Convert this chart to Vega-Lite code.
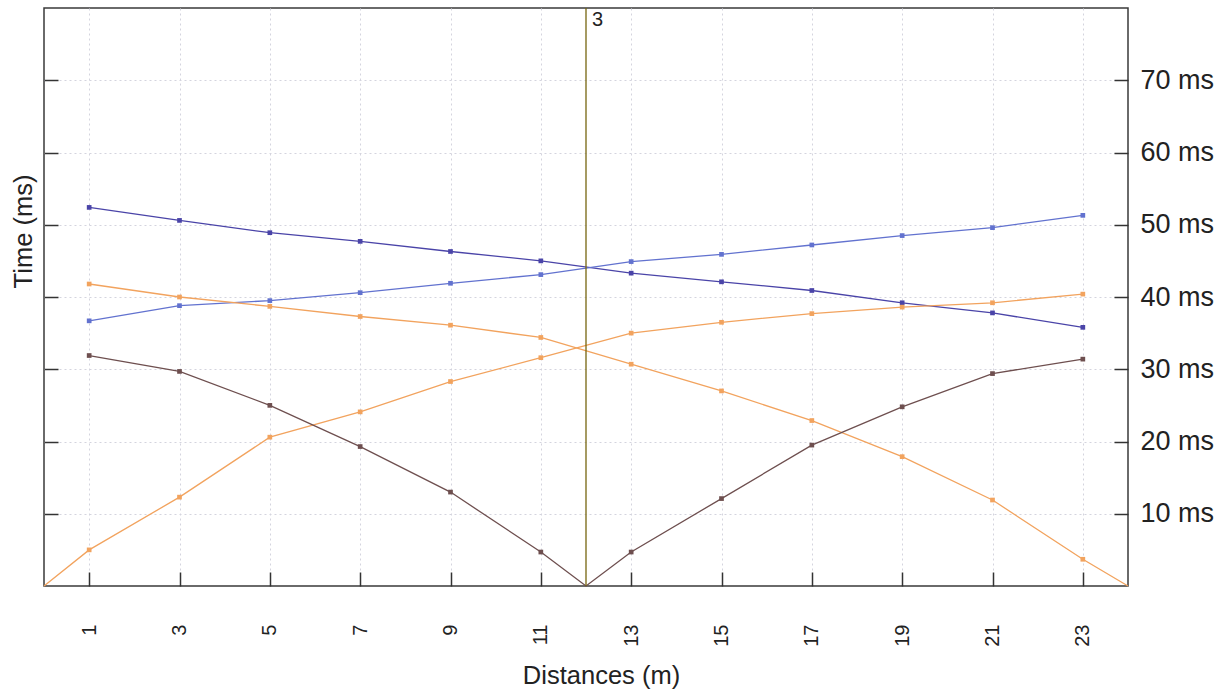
{
  "$schema": "https://vega.github.io/schema/vega-lite/v6.json",
  "width": 1084,
  "height": 578,
  "autosize": {"type": "none"},
  "padding": {"left": 44, "top": 8, "right": 97, "bottom": 111},
  "background": "white",
  "config": {
    "font": "Liberation Sans",
    "view": {"stroke": "#3a3a3a", "strokeWidth": 1.5},
    "axis": {
      "domain": false,
      "tickColor": "#333333",
      "tickWidth": 1.5,
      "tickSize": -14,
      "labelColor": "#222222",
      "titleColor": "#222222",
      "titleFontWeight": "normal",
      "gridColor": "#d4d4de",
      "gridDash": [2, 3],
      "gridWidth": 1
    }
  },
  "datasets": {
    "series": [
      {"series": "A", "x": 1, "y": 52.4}, {"series": "A", "x": 3, "y": 50.6}, {"series": "A", "x": 5, "y": 48.9},
      {"series": "A", "x": 7, "y": 47.7}, {"series": "A", "x": 9, "y": 46.3}, {"series": "A", "x": 11, "y": 45.0},
      {"series": "A", "x": 13, "y": 43.3}, {"series": "A", "x": 15, "y": 42.1}, {"series": "A", "x": 17, "y": 40.9},
      {"series": "A", "x": 19, "y": 39.2}, {"series": "A", "x": 21, "y": 37.8}, {"series": "A", "x": 23, "y": 35.8},
      {"series": "B", "x": 1, "y": 36.7}, {"series": "B", "x": 3, "y": 38.8}, {"series": "B", "x": 5, "y": 39.5},
      {"series": "B", "x": 7, "y": 40.6}, {"series": "B", "x": 9, "y": 41.9}, {"series": "B", "x": 11, "y": 43.1},
      {"series": "B", "x": 13, "y": 44.9}, {"series": "B", "x": 15, "y": 45.9}, {"series": "B", "x": 17, "y": 47.2},
      {"series": "B", "x": 19, "y": 48.5}, {"series": "B", "x": 21, "y": 49.6}, {"series": "B", "x": 23, "y": 51.3},
      {"series": "C", "x": 1, "y": 41.8}, {"series": "C", "x": 3, "y": 40.0}, {"series": "C", "x": 5, "y": 38.7},
      {"series": "C", "x": 7, "y": 37.3}, {"series": "C", "x": 9, "y": 36.1}, {"series": "C", "x": 11, "y": 34.4},
      {"series": "C", "x": 13, "y": 30.7}, {"series": "C", "x": 15, "y": 27.0}, {"series": "C", "x": 17, "y": 22.9},
      {"series": "C", "x": 19, "y": 17.9}, {"series": "C", "x": 21, "y": 11.9}, {"series": "C", "x": 23, "y": 3.7},
      {"series": "C", "x": 24, "y": 0},
      {"series": "D", "x": 0, "y": 0}, {"series": "D", "x": 1, "y": 5.0}, {"series": "D", "x": 3, "y": 12.3},
      {"series": "D", "x": 5, "y": 20.6}, {"series": "D", "x": 7, "y": 24.1}, {"series": "D", "x": 9, "y": 28.3},
      {"series": "D", "x": 11, "y": 31.6}, {"series": "D", "x": 13, "y": 35.0}, {"series": "D", "x": 15, "y": 36.5},
      {"series": "D", "x": 17, "y": 37.7}, {"series": "D", "x": 19, "y": 38.6}, {"series": "D", "x": 21, "y": 39.2},
      {"series": "D", "x": 23, "y": 40.4},
      {"series": "E", "x": 1, "y": 31.9}, {"series": "E", "x": 3, "y": 29.7}, {"series": "E", "x": 5, "y": 25.0},
      {"series": "E", "x": 7, "y": 19.3}, {"series": "E", "x": 9, "y": 13.0}, {"series": "E", "x": 11, "y": 4.7},
      {"series": "E", "x": 12, "y": 0}, {"series": "E", "x": 13, "y": 4.7}, {"series": "E", "x": 15, "y": 12.1},
      {"series": "E", "x": 17, "y": 19.5}, {"series": "E", "x": 19, "y": 24.8}, {"series": "E", "x": 21, "y": 29.4},
      {"series": "E", "x": 23, "y": 31.4}
    ],
    "marker": [{"x": 12, "y": 78.3, "label": "3"}]
  },
  "layer": [
    {
      "data": {"name": "series"},
      "mark": {"type": "line", "strokeWidth": 1.3},
      "encoding": {
        "x": {
          "field": "x", "type": "quantitative",
          "scale": {"domain": [0, 24], "nice": false, "zero": false},
          "axis": {
            "orient": "bottom",
            "values": [1, 3, 5, 7, 9, 11, 13, 15, 17, 19, 21, 23],
            "grid": true,
            "labelAngle": 270,
            "labelFontSize": 20,
            "labelPadding": 52,
            "labelAlign": "right",
            "labelBaseline": "middle",
            "title": "Distances (m)",
            "titleFontSize": 25.5,
            "titleX": 557,
            "titleY": 97,
            "titleAlign": "center",
            "titleBaseline": "alphabetic"
          }
        },
        "y": {
          "field": "y", "type": "quantitative",
          "scale": {"domain": [0, 80], "nice": false},
          "axis": {
            "orient": "left",
            "values": [10, 20, 30, 40, 50, 60, 70],
            "grid": true,
            "labels": false,
            "title": "Time (ms)",
            "titleFontSize": 25.5,
            "titleX": -21,
            "titleY": 223,
            "titleAlign": "center",
            "titleBaseline": "middle",
            "titleAngle": 270
          }
        },
        "color": {
          "field": "series", "type": "nominal", "legend": null,
          "scale": {"domain": ["A", "B", "C", "D", "E"], "range": ["#4a44a8", "#6272cf", "#f2a35e", "#f2a35e", "#6e4f4f"]}
        }
      }
    },
    {
      "data": {"name": "marker"},
      "mark": {"type": "rule", "color": "#76650f", "strokeWidth": 1.3},
      "encoding": {
        "x": {"field": "x", "type": "quantitative"}
      }
    },
    {
      "data": {"name": "series"},
      "transform": [{"filter": "datum.x % 2 == 1"}],
      "mark": {"type": "point", "shape": "square", "filled": true, "size": 22, "opacity": 1},
      "encoding": {
        "x": {"field": "x", "type": "quantitative"},
        "y": {
          "field": "y", "type": "quantitative",
          "scale": {"domain": [0, 80], "nice": false},
          "axis": {
            "orient": "right",
            "values": [10, 20, 30, 40, 50, 60, 70],
            "grid": false,
            "labelExpr": "datum.value + ' ms'",
            "labelFontSize": 27,
            "labelPadding": 26,
            "labelAlign": "left",
            "labelBaseline": "middle",
            "title": null
          }
        },
        "color": {
          "field": "series", "type": "nominal", "legend": null,
          "scale": {"domain": ["A", "B", "C", "D", "E"], "range": ["#3a3a9e", "#4a5cc6", "#e8803a", "#e8803a", "#5a3c3c"]}
        }
      }
    },
    {
      "data": {"name": "marker"},
      "mark": {"type": "text", "align": "left", "baseline": "middle", "dx": 6, "fontSize": 20, "color": "#222222"},
      "encoding": {
        "x": {"field": "x", "type": "quantitative"},
        "y": {"field": "y", "type": "quantitative", "axis": null},
        "text": {"field": "label"}
      }
    }
  ],
  "resolve": {"axis": {"y": "independent"}}
}
